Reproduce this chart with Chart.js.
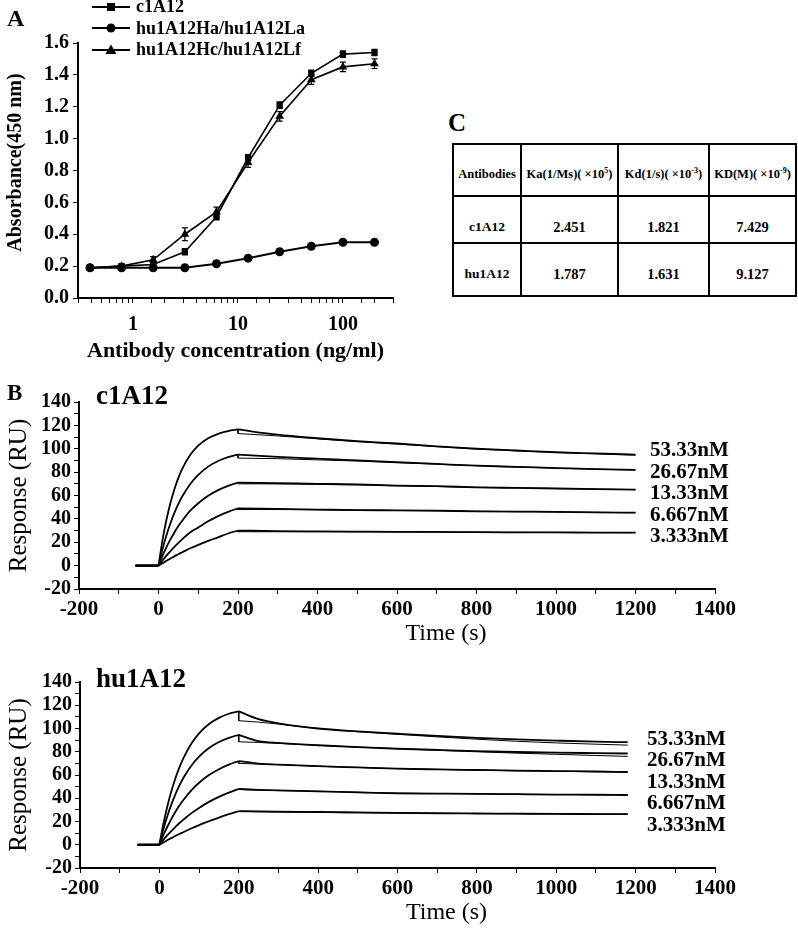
<!DOCTYPE html>
<html>
<head>
<meta charset="utf-8">
<script src="https://cdn.jsdelivr.net/npm/chart.js@4"></script>
<style>
  body { margin: 0; background: #fff; }
  #page { position: relative; width: 798px; height: 929px; overflow: hidden; font-family: "Liberation Serif", "Times New Roman", serif; color: #000; }
  canvas { position: absolute; }
  .letter { position: absolute; font-weight: bold; line-height: 1; }
  #legendA { position: absolute; left: 92px; top: -4px; font-weight: bold; font-size: 18px; }
  #legendA div { height: 21.5px; display: flex; align-items: center; white-space: nowrap; }
  #legendA svg { margin-right: 6px; }
  #tableC { position: absolute; left: 452px; top: 143px; border-collapse: collapse; table-layout: fixed; font-weight: bold; font-size: 13.5px; }
  #tableC td { border: 2px solid #000; text-align: center; vertical-align: bottom; white-space: nowrap; padding: 0; }
  #tableC tr.hd td { font-size: 12.5px; }
  #tableC td.num { font-size: 14.5px; }
  #tableC sup { font-size: 8px; }
</style>
</head>
<body>
<div id="page">
  <canvas id="chartA" width="420" height="370" style="left:0;top:0"></canvas>
  <canvas id="chartB1" width="798" height="290" style="left:0;top:360px"></canvas>
  <canvas id="chartB2" width="798" height="289" style="left:0;top:640px"></canvas>

  <div class="letter" style="left:7px;top:6px;font-size:24px">A</div>
  <div class="letter" style="left:448px;top:110px;font-size:25px">C</div>
  <div class="letter" style="left:7px;top:381px;font-size:23px">B</div>
  <div class="letter" style="left:96px;top:382px;font-size:27px">c1A12</div>
  <div class="letter" style="left:96px;top:665px;font-size:27px">hu1A12</div>

  <div id="legendA"></div>

  <table id="tableC">
    <colgroup><col style="width:68px"><col style="width:97px"><col style="width:91px"><col style="width:87px"></colgroup>
    <tr class="hd" style="height:52px">
      <td style="padding-bottom:13px">Antibodies</td>
      <td style="padding-bottom:13px">Ka(1/Ms)( ×10<sup>5</sup>)</td>
      <td style="padding-bottom:13px">Kd(1/s)( ×10<sup>-3</sup>)</td>
      <td style="padding-bottom:13px">KD(M)( ×10<sup>-9</sup>)</td>
    </tr>
    <tr style="height:47px">
      <td style="padding-bottom:7px">c1A12</td><td class="num" style="padding-bottom:6px">2.451</td><td class="num" style="padding-bottom:6px">1.821</td><td class="num" style="padding-bottom:6px">7.429</td>
    </tr>
    <tr style="height:53px">
      <td style="padding-bottom:13px">hu1A12</td><td class="num" style="padding-bottom:12px">1.787</td><td class="num" style="padding-bottom:12px">1.631</td><td class="num" style="padding-bottom:12px">9.127</td>
    </tr>
  </table>
</div>

<script>
const FONT = '"Liberation Serif", "Times New Roman", serif';

// ---- panel A : ELISA ----
const conc = [0.39, 0.78, 1.56, 3.125, 6.25, 12.5, 25, 50, 100, 200];
const absC1A12 = [0.19, 0.20, 0.21, 0.29, 0.51, 0.88, 1.21, 1.41, 1.53, 1.54];
const absHaLa = [0.19, 0.19, 0.19, 0.19, 0.215, 0.25, 0.29, 0.325, 0.35, 0.35];
const absHcLf = [0.19, 0.20, 0.24, 0.40, 0.54, 0.85, 1.14, 1.37, 1.45, 1.47];
const errC1A12 = [0.01, 0.01, 0.01, 0.02, 0.02, 0.02, 0.02, 0.02, 0.02, 0.02];
const errHaLa = [0.01, 0.01, 0.01, 0.01, 0.01, 0.01, 0.01, 0.01, 0.01, 0.01];
const errHcLf = [0.01, 0.01, 0.02, 0.04, 0.03, 0.03, 0.03, 0.03, 0.03, 0.03];
const namesA = ['c1A12', 'hu1A12Ha/hu1A12La', 'hu1A12Hc/hu1A12Lf'];
const stylesA = ['rect', 'circle', 'triangle'];

// ---- panel B : SPR sensorgrams ----
const concLabels = ['53.33nM', '26.67nM', '13.33nM', '6.667nM', '3.333nM'];

const timeC = [-58, 0, 10, 20, 30, 40, 50, 60, 80, 100, 125, 150, 175, 200, 300, 400, 500, 600, 700, 800, 900, 1000, 1100, 1200];
const c1_53 = [0, 0, 21.6, 39.2, 53.5, 65.4, 75.1, 83, 94.8, 102.7, 109, 112.8, 115.1, 116.5, 112, 109, 106.5, 104.5, 102, 100, 98.5, 97, 96, 95];
const c1_26 = [0, 0, 13.9, 25.9, 36.2, 45.1, 52.8, 59.3, 69.9, 77.7, 84.7, 89.5, 92.8, 95, 93, 91.5, 90, 88.5, 87, 85.5, 84.5, 83.5, 82.5, 82];
const c1_13 = [0, 0, 8.3, 15.8, 22.4, 28.4, 33.8, 38.6, 47, 53.4, 59.8, 64.6, 68.3, 71, 70.5, 70, 69.5, 68.5, 68, 67, 66.5, 66, 65.5, 65];
const c1_6 = [0, 0, 4.4, 8.5, 12.3, 16, 19.5, 22.7, 28.6, 32.7, 37.9, 42.4, 46, 49, 48.5, 48, 47.5, 47.3, 47, 46.5, 46.2, 46, 45.5, 45.3];
const c1_3 = [0, 0, 2.1, 4.1, 6.1, 7.9, 9.8, 11.5, 14.9, 17.8, 21.2, 24.2, 27.5, 30, 29.5, 29.3, 29.1, 28.9, 28.8, 28.6, 28.5, 28.4, 28.3, 28.2];
const fitTimeC = [200, 300, 400, 500, 600, 700, 800, 900, 1000, 1100, 1200];
const c1Fit_53 = [113, 111, 108.5, 106, 104, 101.8, 99.8, 98.2, 96.8, 95.6, 94.5];
const c1Fit_26 = [92, 91.5, 90.5, 89.5, 88, 86.8, 85.5, 84.4, 83.4, 82.5, 81.8];
const c1Fit_13 = [70, 70, 69.5, 69, 68.3, 67.7, 67, 66.5, 66, 65.5, 65];
const c1Fit_6 = [48, 48, 47.8, 47.5, 47.2, 46.8, 46.5, 46.2, 45.9, 45.6, 45.3];
const c1Fit_3 = [29, 29, 29, 28.9, 28.8, 28.7, 28.6, 28.5, 28.4, 28.3, 28.2];

const timeH = [-55, 0, 10, 20, 30, 40, 50, 60, 80, 100, 125, 150, 175, 200, 250, 300, 400, 500, 600, 700, 800, 900, 1000, 1100, 1180];
const hu_53 = [0, 0, 17.8, 32.9, 45.8, 56.8, 66.1, 74.1, 86.6, 95.8, 103.8, 109.1, 112.7, 114.7, 108, 104.5, 100, 97.5, 95.5, 93.6, 92, 90.6, 89.6, 88.7, 88.2];
const hu_26 = [0, 0, 13.2, 24.6, 34.5, 43.2, 50.6, 57.2, 67.8, 75.8, 83.2, 88.4, 92, 94.6, 89.2, 87.6, 85.6, 84, 82.6, 81.6, 80.6, 79.8, 79.2, 78.8, 78.5];
const hu_13 = [0, 0, 8.2, 15.5, 22.1, 28.1, 33.5, 38.3, 46.6, 53.3, 59.9, 65, 68.9, 72, 69.8, 69, 67.6, 66.5, 65.4, 64.8, 64.3, 63.8, 63.4, 63, 62.6];
const hu_6 = [0, 0, 4.2, 8.2, 11.8, 15.2, 18.5, 21.4, 27, 31.7, 36.9, 41.2, 44.8, 48, 47.2, 46.7, 46, 45, 44.2, 44, 43.8, 43.5, 43.2, 43, 42.8];
const hu_3 = [0, 0, 1.9, 3.9, 5.7, 7.5, 9.2, 10.8, 14, 16.9, 20.2, 23.4, 26.3, 29, 28.7, 28.5, 28.2, 27.8, 27.4, 27.1, 26.9, 26.7, 26.5, 26.4, 26.3];
const fitTimeH = [200, 250, 300, 400, 500, 600, 700, 800, 900, 1000, 1100, 1180];
const huFit_53 = [106.7, 105.5, 103.8, 100, 97.2, 95, 92.8, 90.8, 89, 87.6, 86.5, 85.7];
const huFit_26 = [88.6, 88, 87.2, 85.5, 84, 82.6, 81.2, 80, 78.8, 77.8, 76.8, 76];
const huFit_13 = [70, 69.4, 68.9, 67.5, 66.5, 65.4, 64.8, 64.2, 63.6, 63.2, 62.8, 62.4];
const huFit_6 = [47.5, 47, 46.6, 46, 45.2, 44.5, 44.1, 43.8, 43.5, 43.2, 43, 42.8];
const huFit_3 = [28.5, 28.3, 28.1, 27.8, 27.5, 27.2, 27, 26.8, 26.6, 26.5, 26.4, 26.3];

function xy(xs, ys) {
  return xs.map((x, i) => ({ x: x, y: ys[i] }));
}

// fixed axis box sizes so the plot areas land where the figure has them
function fixWidth(w) { return s => { s.width = w; }; }
function fixHeight(h) { return s => { s.height = h; }; }

// legend for A (html, marker drawn in svg)
const legendA = document.getElementById('legendA');
namesA.forEach((name, i) => {
  let mark = '';
  if (stylesA[i] === 'rect') mark = '<rect x="15" y="5" width="8" height="8" fill="#000"/>';
  if (stylesA[i] === 'circle') mark = '<circle cx="19" cy="9" r="4.5" fill="#000"/>';
  if (stylesA[i] === 'triangle') mark = '<polygon points="19,3.5 24.5,13 13.5,13" fill="#000"/>';
  const row = document.createElement('div');
  row.innerHTML = '<svg width="38" height="18"><line x1="0" y1="9" x2="38" y2="9" stroke="#000" stroke-width="2"/>' + mark + '</svg>' + name;
  legendA.appendChild(row);
});

// error bars + y title for panel A
const panelAExtras = {
  id: 'panelAExtras',
  afterDatasetsDraw(chart) {
    const ctx = chart.ctx;
    const y = chart.scales.y;
    ctx.save();
    ctx.strokeStyle = '#000';
    ctx.lineWidth = 1.2;
    chart.data.datasets.forEach((ds, di) => {
      const meta = chart.getDatasetMeta(di);
      meta.data.forEach((pt, i) => {
        const v = ds.data[i].y;
        const e = ds.err[i];
        const y1 = y.getPixelForValue(v - e);
        const y2 = y.getPixelForValue(v + e);
        ctx.beginPath();
        ctx.moveTo(pt.x, y1); ctx.lineTo(pt.x, y2);
        ctx.moveTo(pt.x - 3, y1); ctx.lineTo(pt.x + 3, y1);
        ctx.moveTo(pt.x - 3, y2); ctx.lineTo(pt.x + 3, y2);
        ctx.stroke();
      });
    });
    // axis title, a bit lower than the axis centre as in the figure
    ctx.translate(16, y.getPixelForValue(0.85));
    ctx.rotate(-Math.PI / 2);
    ctx.fillStyle = '#000';
    ctx.font = 'bold 20px ' + FONT;
    ctx.textAlign = 'center';
    ctx.textBaseline = 'middle';
    ctx.fillText('Absorbance(450 nm)', 0, 0);
    ctx.restore();
  }
};

const valuesA = [absC1A12, absHaLa, absHcLf];
const errsA = [errC1A12, errHaLa, errHcLf];

new Chart(document.getElementById('chartA'), {
  type: 'line',
  data: {
    datasets: namesA.map((name, i) => ({
      label: name,
      data: xy(conc, valuesA[i]),
      err: errsA[i],
      borderColor: '#000',
      backgroundColor: '#000',
      borderWidth: i === 1 ? 2 : 1.6,
      pointStyle: stylesA[i],
      pointRadius: i === 2 ? 5 : 4.5,
      pointBorderWidth: 0,
      tension: 0
    }))
  },
  options: {
    responsive: false,
    animation: false,
    layout: { padding: { left: 4, top: 43, right: 27, bottom: 3 } },
    plugins: { legend: { display: false }, tooltip: { enabled: false } },
    scales: {
      x: {
        type: 'logarithmic',
        min: 0.3,
        max: 300,
        afterFit: fixHeight(69),
        border: { color: '#000', width: 2 },
        grid: { drawOnChartArea: false, color: '#000', tickLength: 5, lineWidth: 1 },
        ticks: {
          color: '#000',
          autoSkip: false,
          maxRotation: 0,
          font: { family: FONT, size: 20, weight: 'bold' },
          padding: 10,
          callback: v => {
            const l = Math.log10(v);
            return Math.abs(l - Math.round(l)) < 1e-9 ? String(Math.round(v)) : '';
          }
        },
        title: {
          display: true,
          text: 'Antibody concentration (ng/ml)',
          color: '#000',
          font: { family: FONT, size: 22, weight: 'bold' },
          padding: { top: 0, bottom: 2 }
        }
      },
      y: {
        min: 0,
        max: 1.6,
        afterFit: fixWidth(74),
        border: { color: '#000', width: 2 },
        grid: { drawOnChartArea: false, color: '#000', tickLength: 5 },
        ticks: {
          color: '#000',
          stepSize: 0.2,
          font: { family: FONT, size: 20, weight: 'bold' },
          padding: 4,
          callback: v => v.toFixed(1)
        }
      }
    }
  },
  plugins: [panelAExtras]
});

// concentration labels at the right end of each sensorgram, plus the x title
const sprText = {
  id: 'sprText',
  afterDraw(chart, args, opts) {
    const ctx = chart.ctx;
    const ys = chart.scales.y;
    const area = chart.chartArea;
    const topEnd = chart.data.datasets[0].data.slice(-1)[0].y;
    const y0 = ys.getPixelForValue(topEnd) + opts.shift;
    ctx.save();
    ctx.fillStyle = '#000';
    ctx.font = 'bold 21px ' + FONT;
    ctx.textBaseline = 'middle';
    ctx.textAlign = 'left';
    concLabels.forEach((lab, i) => {
      ctx.fillText(lab, opts.x, y0 + i * 21.5);
    });
    ctx.font = '24px ' + FONT;
    ctx.textAlign = 'center';
    ctx.fillText('Time (s)', (area.left + area.right) / 2 + 49, chart.height - 16);
    ctx.restore();
  }
};

function line(data, width, smooth) {
  return {
    data: data,
    borderColor: '#000',
    borderWidth: width,
    pointRadius: 0,
    cubicInterpolationMode: smooth ? 'monotone' : 'default',
    tension: 0
  };
}

function sprChart(id, yAxisWidth, times, series, fitTimes, fits, labelX, labelShift) {
  const iStart = times.indexOf(0);
  const iPeak = times.indexOf(200);
  // data curves: the top curve must come first (labels use its end value)
  const sets = [];
  series.forEach(vals => {
    const pts = xy(times, vals);
    sets.push(line(pts.slice(iPeak), 1.8, true));
    sets.push(line(pts.slice(0, iStart + 1), 1.8, false));
    sets.push(line(pts.slice(iStart, iPeak + 1), 1.8, true));
  });
  fits.forEach((vals, k) => {
    const peak = series[k][iPeak];
    if (peak !== vals[0]) {
      sets.push(line([{ x: fitTimes[0], y: peak }, { x: fitTimes[0], y: vals[0] }], 1, false));
    }
    sets.push(line(xy(fitTimes, vals), 1, true));
  });
  return new Chart(document.getElementById(id), {
    type: 'line',
    data: { datasets: sets },
    options: {
      responsive: false,
      animation: false,
      layout: { padding: { left: 4, top: 42, right: 83, bottom: 5 } },
      plugins: {
        legend: { display: false },
        tooltip: { enabled: false },
        sprText: { x: labelX, shift: labelShift }
      },
      scales: {
        x: {
          type: 'linear',
          min: -200,
          max: 1400,
          afterFit: fixHeight(56),
          border: { color: '#000', width: 2 },
          grid: { drawOnChartArea: false, color: '#000', tickLength: 5 },
          ticks: {
            color: '#000',
            stepSize: 100,
            autoSkip: false,
            maxRotation: 0,
            font: { family: FONT, size: 21, weight: 'bold' },
            padding: 3,
            callback: v => (v % 200 === 0 ? String(v) : '')
          }
        },
        y: {
          min: -20,
          max: 140,
          afterFit: fixWidth(yAxisWidth),
          border: { color: '#000', width: 2 },
          grid: { drawOnChartArea: false, color: '#000', tickLength: 5 },
          ticks: {
            color: '#000',
            stepSize: 10,
            autoSkip: false,
            font: { family: FONT, size: 20, weight: 'bold' },
            padding: 3,
            callback: v => (v % 20 === 0 ? String(v) : '')
          },
          title: {
            display: true,
            text: 'Response (RU)',
            color: '#000',
            font: { family: FONT, size: 25 },
            padding: 0
          }
        }
      }
    },
    plugins: [sprText]
  });
}

sprChart('chartB1', 75, timeC,
  [c1_53, c1_26, c1_13, c1_6, c1_3],
  fitTimeC, [c1Fit_53, c1Fit_26, c1Fit_13, c1Fit_6, c1Fit_3],
  650, -4);

sprChart('chartB2', 76, timeH,
  [hu_53, hu_26, hu_13, hu_6, hu_3],
  fitTimeH, [huFit_53, huFit_26, huFit_13, huFit_6, huFit_3],
  647, -3);
</script>
</body>
</html>
